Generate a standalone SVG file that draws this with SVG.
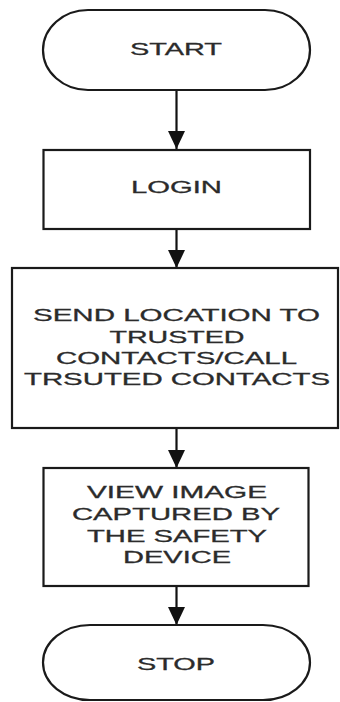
<svg xmlns="http://www.w3.org/2000/svg" width="340" height="702" viewBox="0 0 340 702">
<style>
.shape{fill:#ffffff;stroke:#1a1a1a;stroke-width:2.2}
.conn{stroke:#111111;stroke-width:2.2;fill:none}
.lbl{font-family:"Liberation Sans",Arial,sans-serif;font-size:17px;fill:#2b2b2b;text-anchor:middle;stroke:#2b2b2b;stroke-width:0.3}
</style>
<defs>
<marker id="arrow" markerUnits="userSpaceOnUse" viewBox="0 0 18 17" refX="18" refY="8.5" markerWidth="18" markerHeight="17" orient="auto">
<path d="M0,0 L18,8.5 L0,17 Z" fill="#111111"/>
</marker>
</defs>
<rect width="340" height="702" fill="#ffffff"/>
<g id="connectors">
<line class="conn" x1="176.5" y1="90" x2="176.5" y2="149" marker-end="url(#arrow)"/>
<line class="conn" x1="176.5" y1="229" x2="176.5" y2="268" marker-end="url(#arrow)"/>
<line class="conn" x1="176.5" y1="428" x2="176.5" y2="468" marker-end="url(#arrow)"/>
<line class="conn" x1="176.5" y1="586" x2="176.5" y2="625" marker-end="url(#arrow)"/>
</g>
<g id="start">
<path class="shape" d="M88,10 H265 A45,40 0 0 1 265,90 H88 A45,40 0 0 1 88,10 Z"/>
<text class="lbl" x="176" y="55" textLength="92" lengthAdjust="spacingAndGlyphs">START</text>
</g>
<g id="login">
<rect class="shape" x="43.5" y="150" width="266.5" height="79"/>
<text class="lbl" x="176.5" y="193" textLength="91" lengthAdjust="spacingAndGlyphs">LOGIN</text>
</g>
<g id="send-location">
<rect class="shape" x="12" y="268" width="326" height="160"/>
<text class="lbl" x="176.5" y="321" textLength="287" lengthAdjust="spacingAndGlyphs">SEND LOCATION TO</text>
<text class="lbl" x="177" y="343" textLength="135" lengthAdjust="spacingAndGlyphs">TRUSTED</text>
<text class="lbl" x="176.5" y="364" textLength="241" lengthAdjust="spacingAndGlyphs">CONTACTS/CALL</text>
<text class="lbl" x="177" y="385" textLength="306" lengthAdjust="spacingAndGlyphs">TRSUTED CONTACTS</text>
</g>
<g id="view-image">
<rect class="shape" x="43.5" y="468" width="265" height="118"/>
<text class="lbl" x="177" y="498" textLength="180" lengthAdjust="spacingAndGlyphs">VIEW IMAGE</text>
<text class="lbl" x="176" y="520" textLength="208" lengthAdjust="spacingAndGlyphs">CAPTURED BY</text>
<text class="lbl" x="177" y="542" textLength="180" lengthAdjust="spacingAndGlyphs">THE SAFETY</text>
<text class="lbl" x="177" y="563" textLength="108" lengthAdjust="spacingAndGlyphs">DEVICE</text>
</g>
<g id="stop">
<path class="shape" d="M90,625 H263 A47,37.5 0 0 1 263,700 H90 A47,37.5 0 0 1 90,625 Z"/>
<text class="lbl" x="176" y="670" textLength="78" lengthAdjust="spacingAndGlyphs">STOP</text>
</g>
</svg>
